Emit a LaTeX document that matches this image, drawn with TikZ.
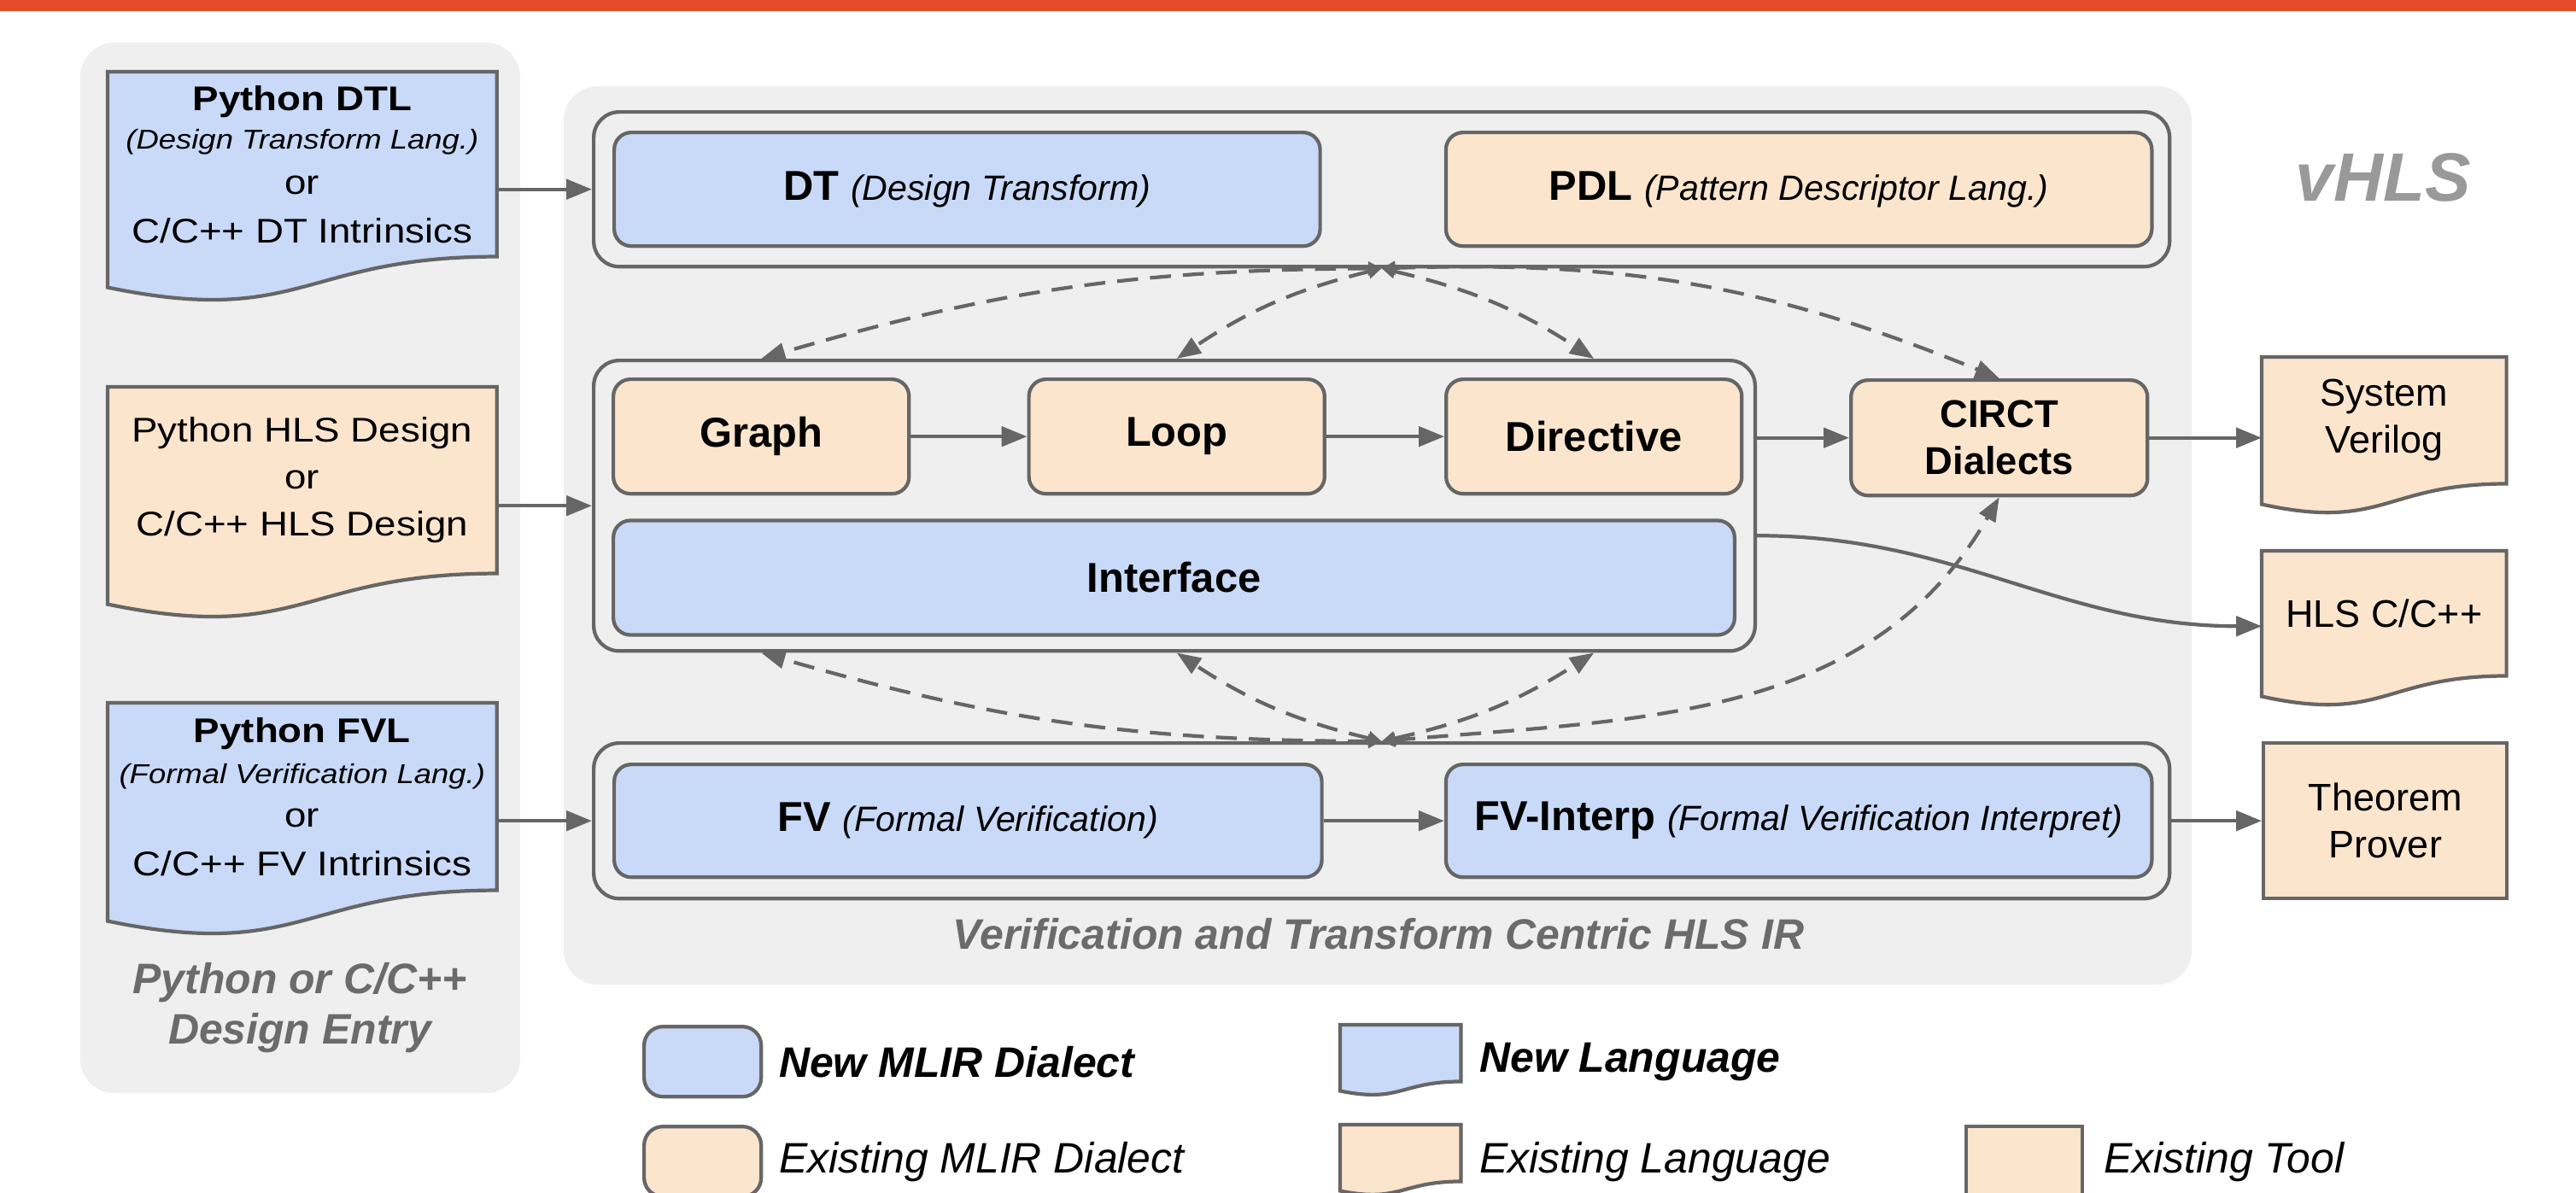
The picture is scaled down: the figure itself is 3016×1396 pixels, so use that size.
\documentclass[tikz,border=0pt]{standalone}
\usepackage{fontspec}
\setmainfont{Liberation Sans}
\newfontfamily\docfont{Liberation Sans}[FakeStretch=1.14]
\usetikzlibrary{arrows.meta, positioning, calc}

\definecolor{dialblue}{HTML}{C9DAF8}
\definecolor{dialorange}{HTML}{FCE5CD}
\definecolor{edgegray}{HTML}{666666}
\definecolor{capgray}{HTML}{6B6B6B}
\definecolor{panelgray}{HTML}{EFEFEF}
\definecolor{bannerred}{HTML}{E54B27}
\definecolor{titlegray}{HTML}{999999}

\newcommand{\gloss}[1]{{\mdseries\itshape\fontsize{11.7}{14}\selectfont #1}}
\newcommand{\docgloss}[1]{{\itshape\fontsize{9.1}{12}\selectfont #1}}
% wavy bottom of a document node: node, fill, depth of the wave
\newcommand{\docwave}[3]{%
  \fill[#2] ($(#1.south east)+(0,-2)$) -- (#1.south east) .. controls (#1.south) and ($(#1.south)+(0,2.31*#3)$) .. ($(#1.south west)+(0,#3)$) -- ($(#1.south west)+(0,-2)$) -- cycle;
  \draw[edge] (#1.south west) -- (#1.north west) -- (#1.north east) -- (#1.south east) .. controls (#1.south) and ($(#1.south)+(0,2.31*#3)$) .. ($(#1.south west)+(0,#3)$) -- cycle;
}

\begin{document}
\begin{tikzpicture}[x=0.01cm, y=-0.01cm,
    edge/.style={draw=edgegray, line width=1.2pt},
    dialect/.style={edge, rounded corners=0.2cm, inner sep=0pt, minimum height=1.33cm, font=\fontsize{13.9}{16}\selectfont\bfseries},
    newdial/.style={dialect, fill=dialblue},
    olddial/.style={dialect, fill=dialorange},
    group/.style={edge, rounded corners=0.3cm, inner sep=0pt},
    panel/.style={fill=panelgray, rounded corners=0.4cm},
    doc/.style={inner sep=0pt, align=center, anchor=north west},
    leftdoc/.style={doc, minimum width=4.54cm, font=\docfont\fontsize{11.4}{15.6}\selectfont},
    rightdoc/.style={doc, minimum width=2.85cm, font=\fontsize{12.8}{15.6}\selectfont},
    flow/.style={draw=edgegray, line width=1.2pt, -{Triangle[length=8.5pt, width=6.6pt]}},
    dashlink/.style={draw=edgegray, line width=1.2pt, dash pattern=on 7pt off 4pt,
      {Triangle[length=4.5pt, width=4.5pt]}-{Triangle[length=8pt, width=6pt]}},
    caption/.style={text=capgray, align=center, font=\fontsize{14.2}{16.8}\selectfont\bfseries\itshape},
    keybox/.style={edge, inner sep=0pt, anchor=north west, minimum width=1.37cm, minimum height=0.82cm},
    keytext/.style={inner sep=0pt, anchor=west, font=\fontsize{14.2}{16}\selectfont\itshape}]

\useasboundingbox (0,0) rectangle (3016,1396);
\fill[bannerred] (0,0) rectangle (3016,13);
\fill[panel] (94,50) rectangle (609,1280);
\fill[panel] (660,101) rectangle (2566,1153);

\node[group, anchor=north west, minimum width=18.44cm, minimum height=1.81cm] (topgrp) at (693,129) {};
\node[newdial, anchor=north west, minimum width=8.26cm] (dt) at (717,153) {DT \gloss{(Design Transform)}};
\node[olddial, right=1.43cm of dt, minimum width=8.26cm] (pdl) {PDL \gloss{(Pattern Descriptor Lang.)}};
\node[text=titlegray, font=\fontsize{22.8}{26}\selectfont\bfseries\itshape] (vhls) at (2790,208) {vHLS};

\node[group, anchor=north west, minimum width=13.59cm, minimum height=3.40cm] (midgrp) at (693,420) {};
\node[olddial, anchor=north west, minimum width=3.46cm, minimum height=1.34cm] (graph) at (716,442) {Graph};
\node[olddial, right=1.36cm of graph, minimum width=3.46cm, minimum height=1.34cm] (loop) {Loop};
\node[olddial, right=1.38cm of loop, minimum width=3.46cm, minimum height=1.34cm] (directive) {Directive};
\node[newdial, below=0.27cm of graph.south west, anchor=north west, minimum width=13.12cm, minimum height=1.34cm] (iface) {Interface};
\node[olddial, anchor=north west, align=center, minimum width=3.47cm, minimum height=1.35cm,
  font=\fontsize{12.9}{15.6}\selectfont\bfseries] (circt) at (2165,443) {CIRCT\\Dialects};

\node[group, anchor=north west, minimum width=18.44cm, minimum height=1.82cm] (fvgrp) at (693,868) {};
\node[newdial, anchor=north west, minimum width=8.28cm, minimum height=1.32cm] (fv) at (717,893) {FV \gloss{(Formal Verification)}};
\node[newdial, right=1.41cm of fv, minimum width=8.26cm, minimum height=1.32cm] (fvint) {FV-Interp \gloss{(Formal Verification Interpret)}};
\node[caption] (irname) at (1614,1094) {Verification and Transform Centric HLS IR};

\node[leftdoc, fill=dialblue, minimum height=2.15cm] (dtl) at (126,84)
  {{\bfseries Python DTL}\\[-2.8pt]\docgloss{(Design Transform Lang.)}\\[-0.5pt]or\\[0.6pt]C/C++ DT Intrinsics};
\docwave{dtl}{dialblue}{36}
\node[leftdoc, fill=dialorange, minimum height=2.17cm] (hls) at (126,453)
  {Python HLS Design\\or\\C/C++ HLS Design};
\docwave{hls}{dialorange}{36}
\node[leftdoc, fill=dialblue, minimum height=2.18cm] (fvl) at (126,823)
  {{\bfseries Python FVL}\\[-1.9pt]\docgloss{(Formal Verification Lang.)}\\[-1.1pt]or\\[0.6pt]C/C++ FV Intrinsics};
\docwave{fvl}{dialblue}{36}
\node[caption] (entry) at (351,1180) {Python or C/C++\\Design Entry};

\node[rightdoc, fill=dialorange, minimum height=1.47cm] (sysv) at (2648,418) {System\\Verilog};
\docwave{sysv}{dialorange}{24}
\node[rightdoc, fill=dialorange, minimum height=1.45cm] (hlscpp) at (2648,645) {HLS C/C++};
\docwave{hlscpp}{dialorange}{24}
\node[rightdoc, edge, fill=dialorange, minimum height=1.82cm] (thm) at (2648,868) {Theorem\\Prover};

\draw[flow] (dtl.east |- topgrp.west) -- (topgrp.west);
\draw[flow] (hls.east |- midgrp.west) -- (midgrp.west);
\draw[flow] (fvl.east |- fvgrp.west) -- (fvgrp.west);
\draw[flow] (graph) -- (loop);
\draw[flow] (loop) -- (directive);
\draw[flow] (fv) -- (fvint);
\draw[flow] (midgrp.east |- circt.west) -- (circt.west);
\draw[flow] (circt.east) -- (sysv.west |- circt.east);
\draw[flow] ($(midgrp.east)+(0,35)$) to[out=0, in=180] ($(hlscpp.west)+(0,15)$);
\draw[flow] (fvgrp.east) -- (thm.west);

\coordinate (tophub) at (topgrp.south);
\coordinate (bothub) at (fvgrp.north);
\draw[dashlink] (tophub) to[bend right=8] (graph.north |- midgrp.north);
\draw[dashlink] (tophub) to[bend right=10] (loop.north |- midgrp.north);
\draw[dashlink] (tophub) to[bend left=10] (directive.north |- midgrp.north);
\draw[dashlink] (tophub) to[bend left=12] (circt.north);
\draw[dashlink] (bothub) to[bend left=8] (graph.south |- midgrp.south);
\draw[dashlink] (bothub) to[bend left=10] (loop.south |- midgrp.south);
\draw[dashlink] (bothub) to[bend right=10] (directive.south |- midgrp.south);
\draw[dashlink] (bothub) to[out=5, in=-120] (circt.south);

\node[keybox, fill=dialblue, rounded corners=0.22cm] (keynew) at (752,1200) {};
\node[keytext, right=0.18cm of keynew, font=\fontsize{14.2}{16}\selectfont\bfseries\itshape] (keynewtxt) {New MLIR Dialect};
\node[doc, fill=dialblue, minimum width=1.4cm, minimum height=0.65cm] (keylang) at (1569,1200) {};
\docwave{keylang}{dialblue}{11}
\node[keytext, font=\fontsize{14.2}{16}\selectfont\bfseries\itshape] (keylangtxt) at ($(keylang.east |- keynew.east)+(21,0)$) {New Language};

\node[keybox, fill=dialorange, rounded corners=0.22cm] (keyold) at (752,1317) {};
\node[keytext, right=0.18cm of keyold] (keyoldtxt) {Existing MLIR Dialect};
\node[doc, fill=dialorange, minimum width=1.4cm, minimum height=0.65cm] (keyoldlang) at (1569,1317) {};
\docwave{keyoldlang}{dialorange}{11}
\node[keytext] (keyoldlangtxt) at ($(keyoldlang.east |- keyold.east)+(21,0)$) {Existing Language};
\node[keybox, fill=dialorange, minimum width=1.36cm] (keytool) at (2300,1317) {};
\node[keytext, right=0.22cm of keytool] (keytooltxt) {Existing Tool};
\end{tikzpicture}
\end{document}
